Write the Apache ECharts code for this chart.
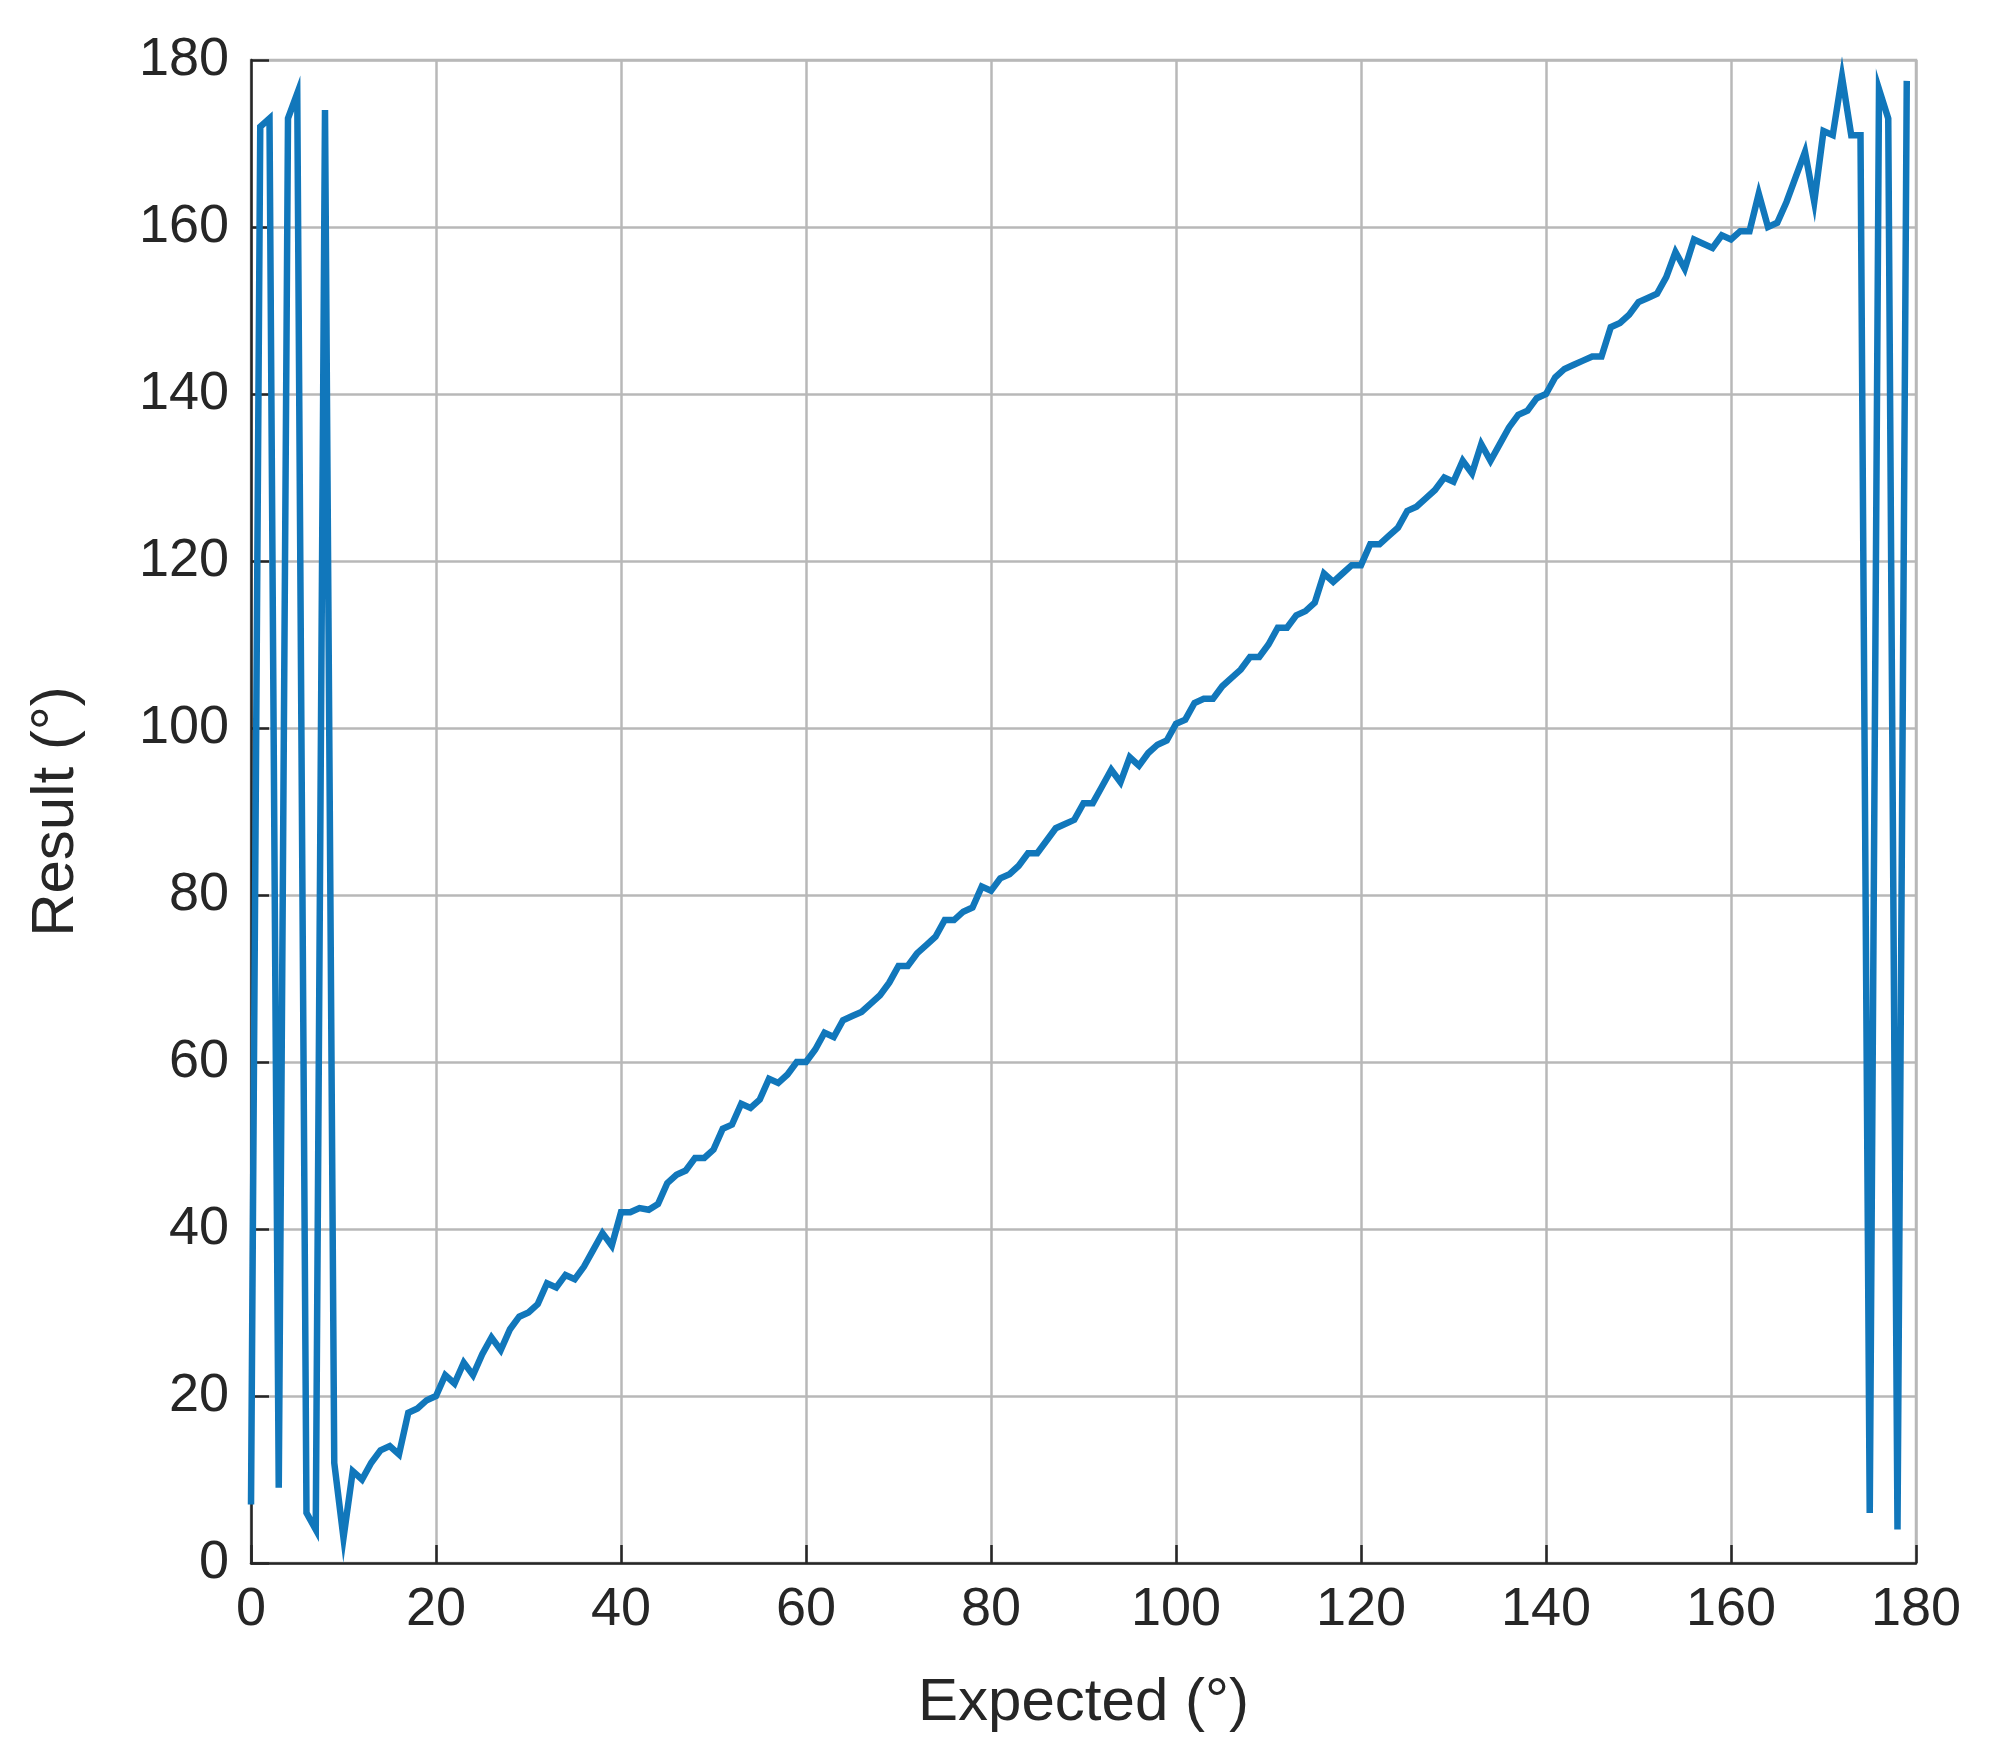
<!DOCTYPE html>
<html>
<head>
<meta charset="utf-8">
<script src="https://cdn.jsdelivr.net/npm/echarts@6/dist/echarts.min.js"></script>
<style>html,body{margin:0;background:#fff}#main{width:1991px;height:1763px}</style>
</head>
<body>
<div id="main"></div>
<script>
// expected angle 0..179, result
var expected = [];
for (var i = 0; i < 180; i++) expected.push(i);
var result = [
    7, 172, 173, 9, 173, 176, 6, 4, 174, 12,
    3, 11, 10, 12, 13.5, 14, 13, 18, 18.5, 19.5,
    20, 22.5, 21.5, 24, 22.5, 25, 27, 25.5, 28, 29.5,
    30, 31, 33.5, 33, 34.5, 34, 35.5, 37.5, 39.5, 38,
    42, 42, 42.5, 42.3, 43, 45.5, 46.5, 47, 48.5, 48.5,
    49.5, 52, 52.5, 55, 54.5, 55.5, 58, 57.5, 58.5, 60,
    60, 61.5, 63.5, 63, 65, 65.5, 66, 67, 68, 69.5,
    71.5, 71.5, 73, 74, 75, 77, 77, 78, 78.5, 81,
    80.5, 82, 82.5, 83.5, 85, 85, 86.5, 88, 88.5, 89,
    91, 91, 93, 95, 93.5, 96.5, 95.5, 97, 98, 98.5,
    100.5, 101, 103, 103.5, 103.5, 105, 106, 107, 108.5, 108.5,
    110, 112, 112, 113.5, 114, 115, 118.5, 117.5, 118.5, 119.5,
    119.5, 122, 122, 123, 124, 126, 126.5, 127.5, 128.5, 130,
    129.5, 132, 130.5, 134, 132, 134, 136, 137.5, 138, 139.5,
    140, 142, 143, 143.5, 144, 144.5, 144.5, 148, 148.5, 149.5,
    151, 151.5, 152, 154, 157, 155, 158.5, 158, 157.5, 159,
    158.5, 159.5, 159.5, 164, 160, 160.5, 163, 166, 169, 163,
    171.5, 171, 178, 171, 171, 6, 176.5, 173, 4, 177.5
];

var points = expected.map(function (x, i) { return [x, result[i]]; });

var myChart = echarts.init(document.getElementById('main'));

var axisCommon = {
    type: 'value',
    min: 0,
    max: 180,
    interval: 20,
    nameLocation: 'middle',
    nameTextStyle: {fontSize: 60, color: '#262626', fontFamily: 'Liberation Sans'},
    axisLine: {show: true, lineStyle: {color: '#262626', width: 2.5}},
    axisTick: {show: true, inside: true, length: 18, lineStyle: {color: '#262626', width: 2.5}},
    axisLabel: {fontSize: 54, color: '#262626', fontFamily: 'Liberation Sans'},
    splitLine: {show: true, lineStyle: {color: '#b8b8b8', width: 2.5}}
};

option = {
    animation: false,
    grid: {left: 251, right: 75, top: 60, bottom: 200, show: true, borderColor: '#b8b8b8', borderWidth: 2.5},
    xAxis: Object.assign({}, axisCommon, {
        name: 'Expected (°)', nameGap: 110,
        axisLabel: Object.assign({}, axisCommon.axisLabel, {margin: 20})
    }),
    yAxis: Object.assign({}, axisCommon, {
        name: 'Result (°)', nameGap: 165,
        axisLabel: Object.assign({}, axisCommon.axisLabel, {margin: 22})
    }),
    series: [
        {
            type: 'line',
            data: points,
            showSymbol: false,
            lineStyle: {color: '#1177bb', width: 6.5, join: 'miter'}
        }
    ]
};
myChart.setOption(option);
</script>
</body>
</html>
